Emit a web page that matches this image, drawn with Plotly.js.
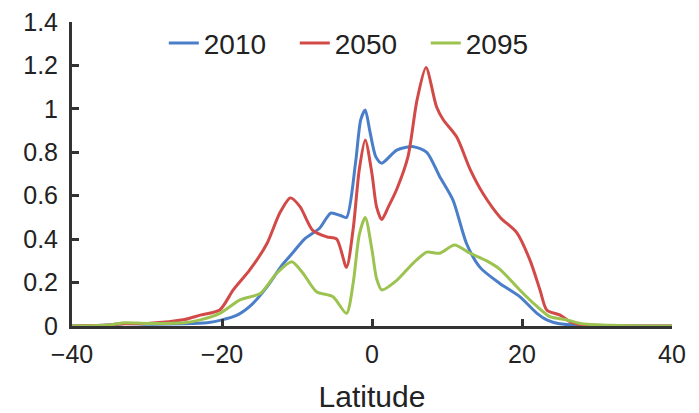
<!DOCTYPE html>
<html>
<head>
<meta charset="utf-8">
<script src="https://cdn.plot.ly/plotly-3.0.1.min.js"></script>
<style>html,body{margin:0;padding:0;background:#fff;}#chart{width:699px;height:413px;}</style>
</head>
<body>
<div id="chart"></div>
<script>
var seriesNames = ["2010", "2050", "2095"];

var lat2010 = [-40, -35, -33, -30, -25, -22, -20, -18, -16, -14, -12, -10.5, -9, -7, -5.5, -4.3, -3.4, -2.2, -1.5, -0.9, -0.3, 0.5, 1.3, 3.3, 5.5, 7.3, 9, 10.8, 12.6, 14.4, 17, 19.7, 22, 23.3, 25, 28, 32, 36, 40];
var val2010 = [0, 0.005, 0.012, 0.008, 0.01, 0.015, 0.028, 0.05, 0.1, 0.18, 0.28, 0.34, 0.4, 0.45, 0.52, 0.51, 0.5, 0.75, 0.95, 0.995, 0.9, 0.78, 0.75, 0.81, 0.826, 0.8, 0.69, 0.58, 0.38, 0.27, 0.197, 0.135, 0.058, 0.028, 0.01, 0.003, 0, 0, 0];

var lat2050 = [-40, -35, -33, -30, -25, -22.9, -20.3, -18.5, -16.3, -14, -12.3, -10.9, -9.6, -7.9, -6, -4.7, -3.4, -2.5, -1.7, -0.9, 0, 0.6, 1.3, 2.2, 3.3, 4.8, 6, 7.2, 8.6, 9.5, 11.3, 13.1, 14.8, 17.1, 19.3, 21.1, 22.4, 23.3, 25.1, 26.4, 28, 32, 36, 40];
var val2050 = [0, 0.005, 0.01, 0.012, 0.03, 0.05, 0.074, 0.166, 0.258, 0.38, 0.52, 0.59, 0.55, 0.44, 0.41, 0.40, 0.27, 0.45, 0.72, 0.857, 0.7, 0.55, 0.49, 0.55, 0.63, 0.78, 1.04, 1.19, 1.01, 0.95, 0.87, 0.72, 0.61, 0.50, 0.43, 0.30, 0.166, 0.074, 0.05, 0.02, 0.005, 0, 0, 0];

var lat2095 = [-40, -35, -33, -30, -25, -22.9, -20.3, -17.6, -14.9, -12.7, -10.7, -9.2, -7.4, -5.2, -3.4, -2.5, -1.7, -0.9, 0, 0.6, 1.3, 3.3, 5.5, 7.3, 9, 11, 13.1, 15.3, 17.1, 19.7, 22, 23.7, 26, 28, 32, 36, 40];
var val2095 = [0, 0.005, 0.015, 0.012, 0.015, 0.028, 0.058, 0.12, 0.15, 0.243, 0.296, 0.243, 0.158, 0.135, 0.058, 0.2, 0.42, 0.50, 0.35, 0.22, 0.166, 0.21, 0.29, 0.34, 0.335, 0.373, 0.335, 0.30, 0.26, 0.166, 0.09, 0.043, 0.028, 0.01, 0.003, 0, 0];

var xTicks = [-40, -20, 0, 20, 40];
var yTicks = [0, 0.2, 0.4, 0.6, 0.8, 1, 1.2, 1.4];
var yTickText = ["0", "0.2", "0.4", "0.6", "0.8", "1", "1.2", "1.4"];
var xTitle = "Latitude";

var colors = ["#4a7ec9", "#d24a48", "#9cc24f"];
var xs = [lat2010, lat2050, lat2095];
var ys = [val2010, val2050, val2095];

var traces = seriesNames.map(function (n, i) {
  return {
    x: xs[i], y: ys[i], name: n, type: "scatter", mode: "lines",
    line: {color: colors[i], width: 3, shape: "spline", smoothing: 0.7}
  };
});

var axisCommon = {
  showgrid: false, zeroline: false, showline: true, linecolor: "#333", linewidth: 3,
  ticks: "inside", ticklen: 7, tickwidth: 3, tickcolor: "#333",
  tickfont: {family: "Liberation Sans, Arial, sans-serif", size: 25, color: "#222"}
};

var layout = {
  width: 699, height: 413,
  margin: {l: 72, r: 27, t: 22, b: 87},
  paper_bgcolor: "#fff", plot_bgcolor: "#fff",
  showlegend: true,
  legend: {orientation: "h", x: 0.153, y: 0.93, xanchor: "left", yanchor: "middle",
    entrywidth: 86, entrywidthmode: "pixels",
    bgcolor: "rgba(0,0,0,0)", font: {family: "Liberation Sans, Arial, sans-serif", size: 28, color: "#222"}},
  xaxis: Object.assign({}, axisCommon, {range: [-40, 40], tickvals: xTicks, ticklabelstandoff: 4,
    title: {text: xTitle, font: {family: "Liberation Sans, Arial, sans-serif", size: 30, color: "#222"}, standoff: 20}}),
  yaxis: Object.assign({}, axisCommon, {range: [0, 1.4], tickvals: yTicks, ticktext: yTickText, ticklabelstandoff: 6})
};

Plotly.newPlot("chart", traces, layout, {staticPlot: true});
</script>
</body>
</html>
